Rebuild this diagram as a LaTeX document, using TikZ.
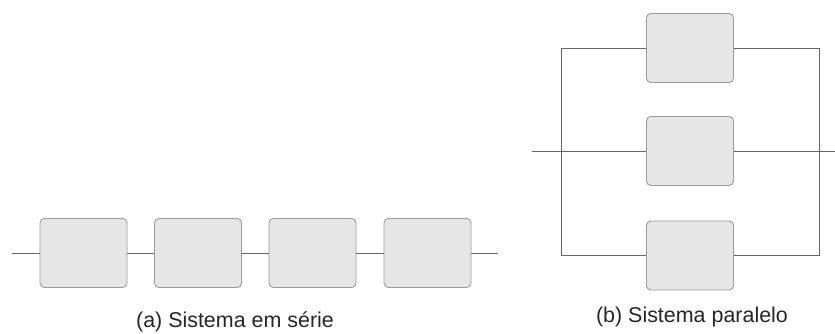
\documentclass[tikz,border=0pt]{standalone}
\usepackage{fontspec}
\setmainfont{Liberation Sans}
\definecolor{boxfill}{HTML}{E6E6E6}
\definecolor{boxline}{HTML}{9A9A9A}
\definecolor{wirec}{HTML}{666666}
\usetikzlibrary{positioning}
\tikzset{
  blk/.style={draw=boxline, fill=boxfill, rounded corners=2.5pt, line width=0.5pt,
              minimum width=1.74cm, minimum height=1.38cm, inner sep=0pt},
  wire/.style={draw=wirec, line width=0.45pt},
  lbl/.style={font=\fontsize{12.2}{14}\selectfont, color=black!85, inner sep=0pt},
}
\begin{document}
\begin{tikzpicture}[x=1cm,y=1cm]
\useasboundingbox (0,0) rectangle (16.7,6.66);
% (a) serie
\coordinate (sa) at (0.24,1.6);
\coordinate (sb) at (9.96,1.6);
\foreach \i/\x in {1/1.67,2/3.96,3/6.25,4/8.55}{
\node[blk] (s\i) at (\x,1.6) {};}
\draw[wire] (sa)--(s1)--(s2)--(s3)--(s4)--(sb);
\node[lbl] (capa) at (4.7,0.22) {(a) Sistema em série};
% (b) paralelo
\node[blk] (p1) at (13.8,5.7) {};
\node[blk] (p2) at (13.8,3.64) {};
\node[blk] (p3) at (13.8,1.55) {};
\coordinate (pin) at (10.64,3.64);\coordinate (pout) at (16.7,3.64);
\coordinate (lt) at (11.22,5.7);\coordinate (lb) at (11.22,1.55);
\coordinate (rt) at (16.38,5.7);\coordinate (rb) at (16.38,1.55);
\draw[wire] (pin)--(p2)--(pout);
\draw[wire] (p1)--(lt)--(lb)--(p3);
\draw[wire] (p1)--(rt)--(rb)--(p3);
\node[lbl] (capb) at (13.84,0.32) {(b) Sistema paralelo};
\end{tikzpicture}
\end{document}
